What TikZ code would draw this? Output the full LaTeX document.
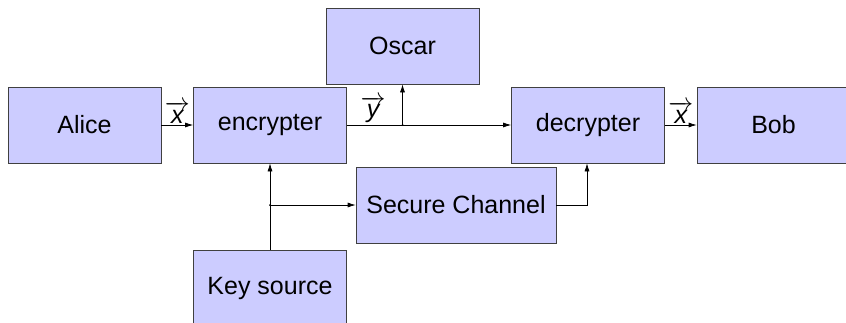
\documentclass[tikz,border=0pt]{standalone}
\usepackage{fontspec}
\setmainfont{Liberation Sans}
\usetikzlibrary{arrows.meta}

\begin{document}
\begin{tikzpicture}[x=1pt, y=-1pt,
    box/.style={draw=black!75, line width=0.7pt, fill=blue!20, minimum width=153pt,
                minimum height=76pt, inner sep=0pt, font=\fontsize{25}{30}\selectfont},
    flow/.style={line width=0.7pt, -{Latex[length=8pt, width=5pt]}},
    vlabel/.style={above, inner sep=1.5pt, font=\fontsize{25}{30}\selectfont}]
          \useasboundingbox (0,0) rectangle (846,322);
          \foreach \n/\x/\t in {alice/84.5/Alice, enc/270/encrypter, dec/588/decrypter, bob/773.5/Bob}
            \node[box] (\n) at (\x,125) {\t};
          \node[box] (oscar) at (402.5,46) {Oscar};
          \node[box, minimum width=200pt] (sec) at (456,205) {Secure Channel};
          \node[box] (key) at (270,288) {Key source};
          \draw[flow] (alice) -- node[vlabel] {$\overrightarrow{\textit{x}}$} (enc);
          \draw[flow] (enc) -- node[vlabel, pos=0.16] {$\overrightarrow{\textit{y}}$} (dec);
          \draw[flow] (dec) -- node[vlabel] {$\overrightarrow{\textit{x}}$} (bob);
          \coordinate (tap) at (enc.east -| oscar.south);
          \draw[flow] (tap) -- (oscar.south);
          \draw[flow] (key.north) -- (enc.south);
          \coordinate (branch) at (key.north |- sec.west);
          \draw[flow] (branch) -- (sec.west);
          \draw[flow] (sec.east) -| ([xshift=-1pt]dec.south);
          \foreach \c in {tap, branch} \fill (\c) circle (1pt);
        \end{tikzpicture}
\end{document}
